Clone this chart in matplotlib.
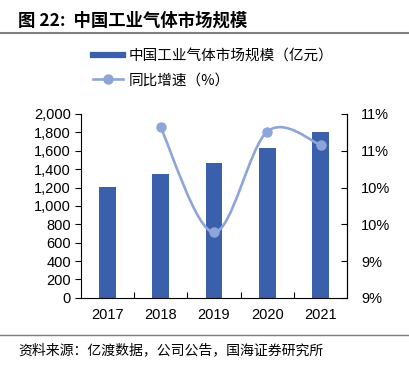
import matplotlib
matplotlib.use('Agg')
import matplotlib.pyplot as plt
import numpy as np
from matplotlib.path import Path
from matplotlib.patches import PathPatch
from matplotlib.lines import Line2D
from matplotlib.ticker import FuncFormatter

plt.rcParams['font.family'] = ['Liberation Sans', 'Noto Sans CJK SC', 'DejaVu Sans']
cjk = ['Noto Sans CJK SC', 'DejaVu Sans']

years = ['2017', '2018', '2019', '2020', '2021']
market = [1208, 1343, 1470, 1626, 1801]      # 亿元
growth_years = [1, 2, 3, 4]                   # index into years
growth = [10.82, 9.39, 10.76, 10.58]          # %
right_ticks = [8.5, 9.0, 9.5, 10.0, 10.5, 11.0]
right_labels = ['9%', '9%', '10%', '10%', '11%', '11%']

bar_color = '#3A5FAB'
line_color = '#8EA5DA'

fig = plt.figure(figsize=(4.09, 3.70), dpi=100)
ax = fig.add_axes([0.197, 0.195, 0.652, 0.497])
ax2 = ax.twinx()

x = np.arange(len(years))
ax.bar(x, market, width=0.31, color=bar_color, zorder=2)
ax.set_xlim(-0.5, 4.5)
ax.set_ylim(0, 2000)
ax.set_yticks(np.arange(0, 2001, 200))
ax.yaxis.set_major_formatter(FuncFormatter(lambda v, p: '{:,.0f}'.format(v)))
ax.set_xticks(x)
ax.set_xticklabels(years)
ax.set_xticks(np.arange(0.5, 4, 1), minor=True)
ax.tick_params(axis='x', which='major', length=0, labelsize=10.5, pad=7)
ax.tick_params(axis='x', which='minor', length=4, direction='in', width=0.8)
ax.tick_params(axis='y', length=4, direction='out', width=0.8, labelsize=10.5, pad=3)
ax.spines['top'].set_visible(False)
for s in ['left', 'bottom']:
    ax.spines[s].set_linewidth(0.8)

# smoothed growth line (Catmull-Rom style bezier through the data points)
gx = np.array(growth_years, dtype=float)
gy = np.array(growth, dtype=float)
pts = np.column_stack([gx, gy])
verts = [tuple(pts[0])]
codes = [Path.MOVETO]
for i in range(len(pts) - 1):
    p0 = pts[i - 1] if i > 0 else pts[i]
    p1 = pts[i]
    p2 = pts[i + 1]
    p3 = pts[i + 2] if i + 2 < len(pts) else pts[i + 1]
    c1 = p1 + (p2 - p0) / 6.0
    c2 = p2 - (p3 - p1) / 6.0
    verts += [tuple(c1), tuple(c2), tuple(p2)]
    codes += [Path.CURVE4] * 3
ax2.add_patch(PathPatch(Path(verts, codes), facecolor='none', edgecolor=line_color,
                        lw=1.9, zorder=3))
ax2.plot(gx, gy, 'o', color=line_color, markersize=6.5, zorder=4)
ax2.set_ylim(8.5, 11.0)
ax2.set_yticks(right_ticks)
ax2.set_yticklabels(right_labels)
ax2.tick_params(axis='y', length=4, direction='in', width=0.8, labelsize=10.5, pad=10)
ax2.spines['top'].set_visible(False)
ax2.spines['right'].set_linewidth(0.8)
ax2.spines['left'].set_visible(False)
ax2.spines['bottom'].set_visible(False)

# legend
handles = [Line2D([], [], color=bar_color, lw=4.5),
           Line2D([], [], color=line_color, lw=1.9, marker='o', markersize=6.5)]
labels = ['中国工业气体市场规模（亿元）', '同比增速（%）']
leg = fig.legend(handles, labels, loc='upper left', bbox_to_anchor=(0.227, 0.867),
                 frameon=False, prop={'family': cjk, 'size': 10.5},
                 handlelength=2.1, handletextpad=0.35, labelspacing=0.7,
                 borderaxespad=0, borderpad=0)

# title and source
fig.text(0.044, 0.945, '图 22:  中国工业气体市场规模', fontsize=12.5, fontweight='bold',
         family=cjk, va='center', ha='left')
fig.add_artist(Line2D([0, 1], [0.911, 0.911], color='#7F7F7F', lw=1.5,
                      transform=fig.transFigure))
fig.add_artist(Line2D([0, 1], [0.094, 0.094], color='#7F7F7F', lw=1.0,
                      transform=fig.transFigure))
fig.text(0.044, 0.053, '资料来源：亿渡数据，公司公告，国海证券研究所', fontsize=10,
         family=cjk, va='center', ha='left')

plt.savefig('out.png', dpi=100)
